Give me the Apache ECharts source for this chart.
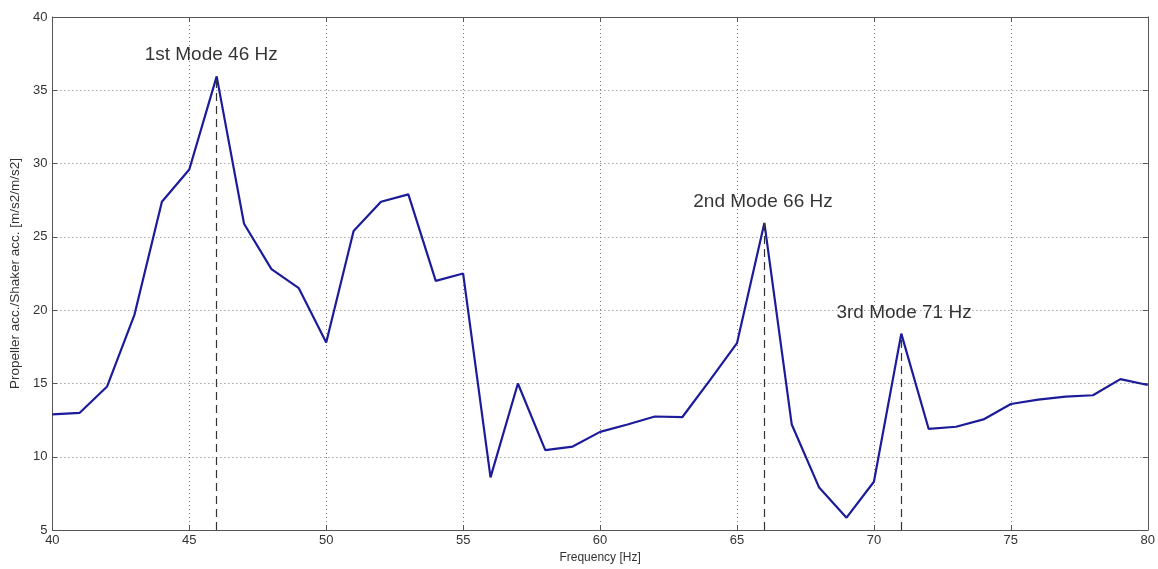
<!DOCTYPE html>
<html>
<head>
<meta charset="utf-8">
<script src="https://cdn.jsdelivr.net/npm/echarts@6/dist/echarts.min.js"></script>
<style>
html,body{margin:0;padding:0;background:#fff;}
#c{width:1158px;height:569px;}
</style>
</head>
<body>
<div id="c"></div>
<script>
var freqs = [40,41,42,43,44,45,46,47,48,49,50,51,52,53,54,55,56,57,58,59,60,61,62,63,64,65,66,67,68,69,70,71,72,73,74,75,76,77,78,79,80];
var ratio = [12.9,13.0,14.8,19.7,27.4,29.6,35.95,25.9,22.8,21.5,17.8,25.4,27.4,27.9,22.0,22.5,8.6,15.0,10.45,10.7,11.7,12.2,12.75,12.7,15.2,17.75,25.95,12.2,7.9,5.85,8.3,18.4,11.9,12.05,12.55,13.6,13.9,14.1,14.2,15.3,14.9];
var modeFreqs = [46,66,71];
var modeLabels = ['1st Mode 46 Hz','2nd Mode 66 Hz','3rd Mode 71 Hz'];
var modeLabelX = [45.8,65.95,71.1];
var modeLabelY = [37.4,27.4,19.8];

var lineData = freqs.map(function(f,i){return [f, ratio[i]];});
var modeLines = modeFreqs.map(function(f){
  var v = ratio[freqs.indexOf(f)];
  return [{coord:[f,5]},{coord:[f,v]}];
});
var labelData = modeFreqs.map(function(f,i){return {value:[modeLabelX[i], modeLabelY[i]], name:modeLabels[i]};});

var tickFont = {fontFamily:'Liberation Sans Narrow, Liberation Sans, Arial, sans-serif', fontSize:13, color:'#333'};
var chart = echarts.init(document.getElementById('c'), null, {renderer:'canvas'});
chart.setOption({
  animation:false,
  backgroundColor:'#fff',
  grid:{left:52,right:6,top:17,bottom:36,containLabel:false},
  xAxis:[{
    type:'value',min:40,max:80,interval:5,
    name:'Frequency [Hz]',nameLocation:'middle',nameGap:21,
    nameTextStyle:{fontFamily:'Liberation Sans Narrow, Liberation Sans, Arial, sans-serif',fontSize:12,color:'#333'},
    axisLine:{show:true,lineStyle:{color:'#555',width:1}},
    axisTick:{show:true,inside:true,length:5,lineStyle:{color:'#555'}},
    axisLabel:Object.assign({margin:4},tickFont),
    splitLine:{show:true,lineStyle:{color:'#777',type:[1,3],width:1}}
  },{
    type:'value',min:40,max:80,interval:5,position:'top',
    axisLine:{show:true,lineStyle:{color:'#555',width:1}},
    axisTick:{show:true,inside:true,length:5,lineStyle:{color:'#555'}},
    axisLabel:{show:false},splitLine:{show:false}
  }],
  yAxis:[{
    type:'value',min:5,max:40,interval:5,
    name:'Propeller acc./Shaker acc. [m/s2/m/s2]',nameLocation:'middle',nameGap:29,nameRotate:90,
    nameTextStyle:{fontFamily:'Liberation Sans, Arial, sans-serif',fontSize:13.5,color:'#333'},
    axisLine:{show:true,lineStyle:{color:'#555',width:1}},
    axisTick:{show:true,inside:true,length:5,lineStyle:{color:'#555'}},
    axisLabel:Object.assign({margin:5},tickFont),
    splitLine:{show:true,lineStyle:{color:'#777',type:[1,3],width:1}}
  },{
    type:'value',min:5,max:40,interval:5,position:'right',
    axisLine:{show:true,lineStyle:{color:'#555',width:1}},
    axisTick:{show:true,inside:true,length:5,lineStyle:{color:'#555'}},
    axisLabel:{show:false},splitLine:{show:false}
  }],
  series:[{
    type:'line',data:lineData,showSymbol:false,symbol:'none',
    lineStyle:{color:'#1c1c9a',width:2.2},
    z:3,
    markLine:{
      silent:true,symbol:['none','none'],label:{show:false},
      lineStyle:{color:'#333',type:[8,5],width:1.2},
      data:modeLines
    }
  },{
    type:'scatter',data:labelData,symbolSize:0,
    label:{show:true,position:'inside',formatter:function(p){return p.name;},
      fontFamily:'Liberation Sans, Arial, sans-serif',fontSize:19,color:'#000',
      textBorderWidth:0}
  }]
});
</script>
</body>
</html>
